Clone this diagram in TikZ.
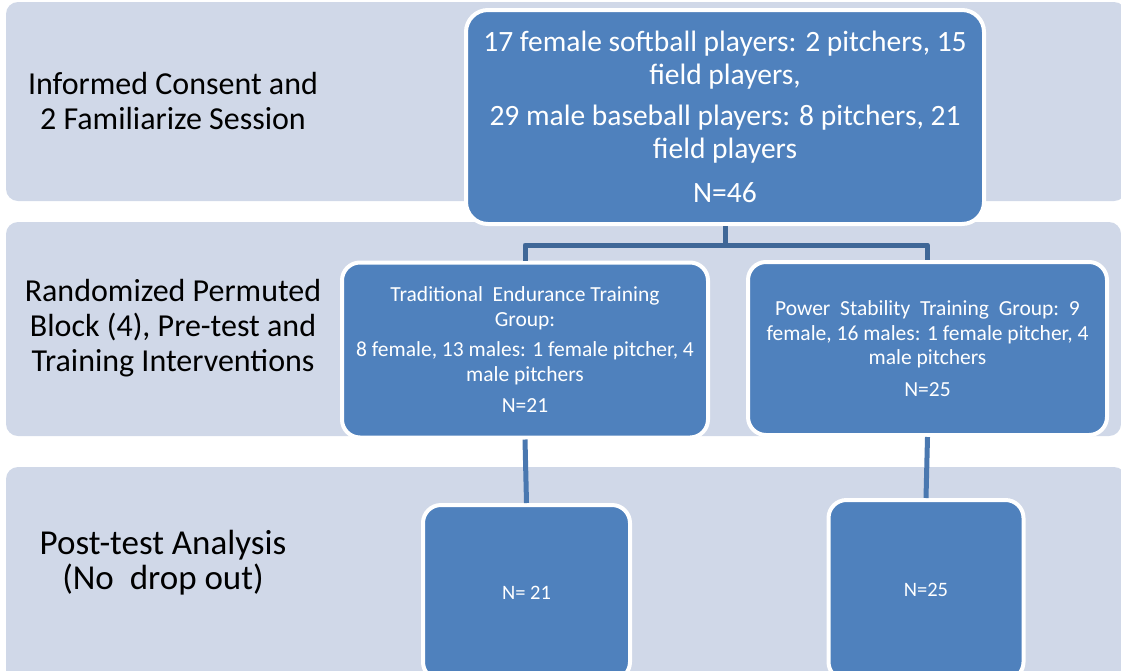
\documentclass[tikz,border=0pt]{standalone}
\usepackage{fontspec}
\setmainfont{Carlito}
\definecolor{bandfill}{HTML}{D0D8E8}
\definecolor{boxfill}{HTML}{4F81BD}
\definecolor{linkdark}{HTML}{3F6797}
\definecolor{linklight}{HTML}{4A78B0}
\tikzset{
  band/.style={fill=bandfill, draw=none, rounded corners=12pt},
  bluebox/.style={fill=boxfill, draw=white, line width=4pt, rounded corners=18pt, text=white, align=center, inner sep=0pt},
  sidelabel/.style={text=black, align=center, font=\fontsize{32}{35}\selectfont},
  link/.style={draw=linkdark, line width=5pt},
  linklow/.style={draw=linklight, line width=5pt},
}
\begin{document}
\begin{tikzpicture}[x=1pt,y=1pt]
\useasboundingbox (0,0) rectangle (1121,-670);
\clip (0,0) rectangle (1121,-670);
% bands
\path[band] (6,-2) rectangle (1126,-201);
\path[band] (6,-222) rectangle (1121,-436);
\path[band] (6,-467) rectangle (1126,-690);
% side labels
\node[sidelabel] (l1) at (173,-101) {Informed Consent and\\2 Familiarize Session};
\node[sidelabel] (l2) at (173,-328) {Randomized Permuted\\Block (4), Pre-test and\\Training Interventions};
\node[sidelabel, font=\fontsize{35}{35}\selectfont] (l3) at (163,-563) {Post-test Analysis\\(No\ \ drop out)};
% boxes
\node[bluebox, minimum width=518pt, minimum height=214pt, rounded corners=22pt,
      font=\fontsize{29.5}{33}\selectfont] (top) at (725,-117)
  {17 female softball players: 2 pitchers, 15\\field players,\\[8pt]29 male baseball players: 8 pitchers, 21\\field players\\[11pt]N=46};
\node[bluebox, minimum width=366pt, minimum height=175pt,
      font=\fontsize{21.5}{24.5}\selectfont] (ml) at (525,-350)
  {Traditional\ \ Endurance Training\\Group:\\[6pt]8 female, 13 males: 1 female pitcher, 4\\male pitchers\\[7pt]N=21};
\node[bluebox, minimum width=359pt, minimum height=173pt,
      font=\fontsize{21.5}{24.5}\selectfont] (mr) at (927.5,-348.5)
  {Power\ \ Stability\ \ Training\ \ Group:\ \ 9\\female, 16 males: 1 female pitcher, 4\\male pitchers\\[7pt]N=25};
\node[bluebox, minimum width=207pt, minimum height=175pt,
      font=\fontsize{20.5}{24}\selectfont] (bl) at (526.5,-592.5) {N= 21};
\node[bluebox, minimum width=195pt, minimum height=180pt,
      font=\fontsize{20.5}{24}\selectfont] (br) at (926,-590) {N=25};
% connectors
\coordinate (split) at (725,-245);
\draw[link] (top.south) -- (split);
\draw[link, line join=round] (ml.north) |- (split) -| (mr.north);
\draw[linklow] (ml.south) -- (bl.north);
\draw[linklow] (mr.south) -- (br.north);
\end{tikzpicture}
\end{document}
